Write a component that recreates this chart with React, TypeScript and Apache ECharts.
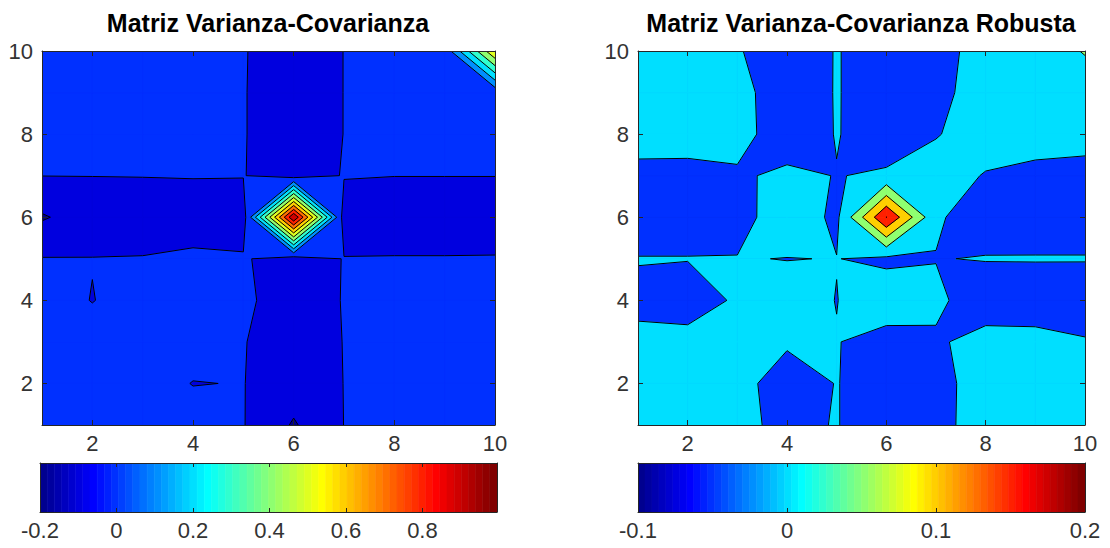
import React, { useEffect, useRef } from "react";
import * as echarts from "echarts";

const FONT = '"Liberation Sans", Arial, Helvetica, sans-serif';
const AXIS_COLOR = "#262626";
const LABEL_COLOR = "#333333";

const titleLeft = "Matriz Varianza-Covarianza";
const titleRight = "Matriz Varianza-Covarianza Robusta";

const gridMin = 1;
const gridMax = 10;
const gridTicks = [2, 4, 6, 8, 10];

// rows: y = 1..10 (first row is y = 1), columns: x = 1..10
const covMatrix: number[][] = [
  [0.03, 0.025, 0.02, 0.03, 0.004, -0.11, 0.001, 0.02, 0.025, 0.02],
  [0.025, 0.03, 0.03, -0.002, 0.002, -0.05, 0.001, 0.02, 0.02, 0.025],
  [0.02, 0.03, 0.03, 0.03, 0.004, -0.05, 0.002, 0.025, 0.02, 0.02],
  [0.03, -0.002, 0.03, 0.035, 0.018, -0.05, 0.004, 0.02, 0.025, 0.02],
  [0.004, 0.002, 0.004, 0.018, 0.01, -0.05, 0.003, 0.004, 0.004, 0.005],
  [-0.11, -0.05, -0.05, -0.05, -0.05, 0.995, -0.05, -0.05, -0.05, -0.05],
  [0.001, 0.001, 0.002, 0.004, 0.003, -0.05, 0.005, 0.001, 0.001, 0.001],
  [0.02, 0.02, 0.025, 0.02, 0.004, -0.05, 0.001, 0.03, 0.025, 0.03],
  [0.025, 0.02, 0.02, 0.025, 0.004, -0.05, 0.001, 0.025, 0.03, 0.03],
  [0.02, 0.025, 0.02, 0.02, 0.005, -0.05, 0.001, 0.03, 0.03, 0.6],
];

const robustMatrix: number[][] = [
  [0.02, 0.015, 0.01, -0.01, 0.002, -0.03, -0.02, 0.03, 0.03, 0.03],
  [0.015, 0.02, 0.021, -0.03, 0.002, -0.03, -0.02, 0.028, 0.03, 0.03],
  [0.01, 0.021, 0.02, 0.008, 0.002, -0.02, -0.01, 0.027, 0.02, 0.005],
  [-0.01, -0.03, 0.008, 0.02, -0.001, 0.031, 0.015, -0.042, -0.035, -0.037],
  [0.002, 0.002, 0.002, -0.001, 0.001, -0.01, -0.002, 0.003, 0.003, 0.003],
  [-0.03, -0.03, -0.02, 0.031, -0.01, 0.201, 0.008, -0.032, -0.03, -0.03],
  [-0.02, -0.02, -0.01, 0.015, -0.002, 0.008, 0.03, -0.004, -0.02, -0.02],
  [0.03, 0.028, 0.027, -0.042, 0.003, -0.032, -0.004, 0.032, 0.033, 0.022],
  [0.03, 0.03, 0.02, -0.035, 0.003, -0.03, -0.02, 0.033, 0.02, 0.025],
  [0.03, 0.03, 0.005, -0.037, 0.003, -0.03, -0.02, 0.022, 0.025, 0.053],
];

const levelsCov = [-0.1, 0, 0.1, 0.2, 0.3, 0.4, 0.5, 0.6, 0.7, 0.8, 0.9];
const levelsRobust = [-0.05, 0, 0.05, 0.1, 0.15, 0.2];

const climCov = [-0.2, 0.995];
const climRobust = [-0.1, 0.2];

const colorbarTicksCov = [-0.2, 0, 0.2, 0.4, 0.6, 0.8];
const colorbarTicksRobust = [-0.1, 0, 0.1, 0.2];

// MATLAB jet(64) colormap
function jetColormap(m: number): string[] {
  const n = Math.ceil(m / 4);
  const u: number[] = [];
  for (let i = 1; i <= n; i++) u.push(i / n);
  for (let i = 1; i < n; i++) u.push(1);
  for (let i = n; i >= 1; i--) u.push(i / n);
  const g0 = Math.ceil(n / 2) - (m % 4 === 1 ? 1 : 0);
  const out: string[] = [];
  for (let k = 1; k <= m; k++) {
    const get = (off: number) => {
      const idx = k - off;
      return idx >= 1 && idx <= u.length ? u[idx - 1] : 0;
    };
    const r = Math.round(get(g0 + n) * 255);
    const g = Math.round(get(g0) * 255);
    const b = Math.round(get(g0 - n) * 255);
    out.push(`rgb(${r},${g},${b})`);
  }
  return out;
}
const JET = jetColormap(64);

function colorAt(v: number, clim: number[]): string {
  let idx = Math.floor(((v - clim[0]) / (clim[1] - clim[0])) * JET.length);
  if (idx < 0) idx = 0;
  if (idx > JET.length - 1) idx = JET.length - 1;
  return JET[idx];
}

type Pt = [number, number];

// marching squares on one cell: region >= L and its boundary segments
function cellGeometry(M: number[][], cx: number, cy: number, L: number) {
  const cs: Pt[] = [
    [cx, cy],
    [cx + 1, cy],
    [cx + 1, cy + 1],
    [cx, cy + 1],
  ];
  const vs = cs.map(([x, y]) => M[y - 1][x - 1]);
  const ins = vs.map((v) => v >= L);
  const cross = (k: number): Pt => {
    const a = cs[k];
    const b = cs[(k + 1) % 4];
    const va = vs[k];
    const vb = vs[(k + 1) % 4];
    const t = (L - va) / (vb - va);
    return [a[0] + t * (b[0] - a[0]), a[1] + t * (b[1] - a[1])];
  };
  const nIn = ins.filter(Boolean).length;
  const saddle = nIn === 2 && ins[0] === ins[2];
  if (saddle) {
    const center = (vs[0] + vs[1] + vs[2] + vs[3]) / 4;
    if (center < L) {
      const polys: Pt[][] = [];
      const segs: [Pt, Pt][] = [];
      for (let k = 0; k < 4; k++) {
        if (!ins[k]) continue;
        const pin = cross((k + 3) % 4);
        const pout = cross(k);
        polys.push([pin, cs[k], pout]);
        segs.push([pin, pout]);
      }
      return { polys, segs };
    }
  }
  const pts: Pt[] = [];
  const events: { exit: boolean; p: Pt }[] = [];
  for (let k = 0; k < 4; k++) {
    const ia = ins[k];
    const ib = ins[(k + 1) % 4];
    if (ia) pts.push(cs[k]);
    if (ia !== ib) {
      const p = cross(k);
      pts.push(p);
      events.push({ exit: ia, p });
    }
  }
  const segs: [Pt, Pt][] = [];
  for (let e = 0; e < events.length; e++) {
    if (events[e].exit) {
      const nxt = events[(e + 1) % events.length];
      segs.push([events[e].p, nxt.p]);
    }
  }
  return { polys: pts.length >= 3 ? [pts] : [], segs };
}

function contourSeries(M: number[][], levels: number[], clim: number[], axisIndex: number) {
  const fillData: number[][] = [];
  const lineData: number[][] = [];
  for (let k = -1; k < levels.length; k++) {
    for (let cy = 1; cy < M.length; cy++) {
      for (let cx = 1; cx < M[0].length; cx++) {
        fillData.push([k, cx + 0.5, cy + 0.5, cx, cy]);
        if (k >= 0) lineData.push([k, cx + 0.5, cy + 0.5, cx, cy]);
      }
    }
  }
  const fill = {
    type: "custom",
    xAxisIndex: axisIndex,
    yAxisIndex: axisIndex,
    silent: true,
    clip: true,
    z: 2,
    encode: { x: 1, y: 2 },
    data: fillData,
    renderItem: (params: any, api: any) => {
      const k = api.value(0);
      const cx = api.value(3);
      const cy = api.value(4);
      let polys: Pt[][];
      let color: string;
      if (k < 0) {
        polys = [
          [
            [cx, cy],
            [cx + 1, cy],
            [cx + 1, cy + 1],
            [cx, cy + 1],
          ],
        ];
        color = colorAt(clim[0], clim);
      } else {
        polys = cellGeometry(M, cx, cy, levels[k]).polys;
        color = colorAt(levels[k], clim);
      }
      return {
        type: "group",
        children: polys.map((poly) => ({
          type: "polygon",
          shape: { points: poly.map((p) => api.coord(p)) },
          style: { fill: color, stroke: color, lineWidth: 0.7 },
        })),
      };
    },
  };
  const lines = {
    type: "custom",
    xAxisIndex: axisIndex,
    yAxisIndex: axisIndex,
    silent: true,
    clip: true,
    z: 3,
    encode: { x: 1, y: 2 },
    data: lineData,
    renderItem: (params: any, api: any) => {
      const k = api.value(0);
      const cx = api.value(3);
      const cy = api.value(4);
      const { segs } = cellGeometry(M, cx, cy, levels[k]);
      return {
        type: "group",
        children: segs.map(([p, q]) => {
          const a = api.coord(p);
          const b = api.coord(q);
          return {
            type: "line",
            shape: { x1: a[0], y1: a[1], x2: b[0], y2: b[1] },
            style: { stroke: "#000000", lineWidth: 1 },
          };
        }),
      };
    },
  };
  return [fill, lines];
}

function colorbarSeries(clim: number[], axisIndex: number) {
  const data: number[][] = [];
  for (let i = 0; i < JET.length; i++) {
    const x0 = clim[0] + (i / JET.length) * (clim[1] - clim[0]);
    const x1 = clim[0] + ((i + 1) / JET.length) * (clim[1] - clim[0]);
    data.push([x0, x1, i]);
  }
  return {
    type: "custom",
    xAxisIndex: axisIndex,
    yAxisIndex: axisIndex,
    silent: true,
    clip: true,
    z: 2,
    encode: { x: [0, 1] },
    data,
    renderItem: (params: any, api: any) => {
      const a = api.coord([api.value(0), 1]);
      const b = api.coord([api.value(1), 0]);
      const c = JET[api.value(2)];
      return {
        type: "rect",
        shape: { x: a[0], y: a[1], width: b[0] - a[0], height: b[1] - a[1] },
        style: { fill: c, stroke: c, lineWidth: 0.6 },
      };
    },
  };
}

function plotAxis(kind: "x" | "y", gridIndex: number, position: string, showLabels: boolean) {
  return {
    type: "value",
    gridIndex,
    position,
    min: gridMin,
    max: gridMax,
    z: 6,
    axisLine: { show: true, onZero: false, lineStyle: { color: AXIS_COLOR, width: 1 } },
    axisTick: {
      show: true,
      inside: true,
      length: 5,
      customValues: gridTicks,
      lineStyle: { color: AXIS_COLOR, width: 1 },
    },
    axisLabel: {
      show: showLabels,
      customValues: gridTicks,
      fontSize: 22,
      fontFamily: FONT,
      color: LABEL_COLOR,
      margin: kind === "x" ? 7 : 9,
    },
    splitLine: { show: false },
  };
}

function colorbarXAxis(gridIndex: number, position: string, clim: number[], ticks: number[], showLabels: boolean) {
  return {
    type: "value",
    gridIndex,
    position,
    min: clim[0],
    max: clim[1],
    z: 6,
    axisLine: { show: true, onZero: false, lineStyle: { color: AXIS_COLOR, width: 1 } },
    axisTick: {
      show: true,
      inside: true,
      length: 4,
      customValues: ticks,
      lineStyle: { color: AXIS_COLOR, width: 1 },
    },
    axisLabel: {
      show: showLabels,
      customValues: ticks,
      fontSize: 22,
      fontFamily: FONT,
      color: LABEL_COLOR,
      margin: 7,
    },
    splitLine: { show: false },
  };
}

function colorbarYAxis(gridIndex: number, position: string) {
  return {
    type: "value",
    gridIndex,
    position,
    min: 0,
    max: 1,
    z: 6,
    axisLine: { show: true, onZero: false, lineStyle: { color: AXIS_COLOR, width: 1 } },
    axisTick: { show: false },
    axisLabel: { show: false },
    splitLine: { show: false },
  };
}

export default function App() {
  const ref = useRef<HTMLDivElement>(null);
  useEffect(() => {
    if (!ref.current) return;
    const chart = echarts.init(ref.current, undefined, { renderer: "svg" });
    const titleStyle = {
      fontSize: 25,
      fontWeight: "bold",
      fontFamily: FONT,
      fill: "#000000",
      align: "center",
      verticalAlign: "middle",
    };
    const option: any = {
      animation: false,
      backgroundColor: "#ffffff",
      textStyle: { fontFamily: FONT },
      grid: [
        { left: 42, top: 51, width: 453, height: 374, containLabel: false, outerBoundsMode: "none" },
        { left: 638, top: 51, width: 447, height: 374, containLabel: false, outerBoundsMode: "none" },
        { left: 40, top: 463, width: 457, height: 49, containLabel: false, outerBoundsMode: "none" },
        { left: 638, top: 463, width: 447, height: 49, containLabel: false, outerBoundsMode: "none" },
      ],
      xAxis: [
        plotAxis("x", 0, "bottom", true),
        plotAxis("x", 0, "top", false),
        plotAxis("x", 1, "bottom", true),
        plotAxis("x", 1, "top", false),
        colorbarXAxis(2, "bottom", climCov, colorbarTicksCov, true),
        colorbarXAxis(2, "top", climCov, colorbarTicksCov, false),
        colorbarXAxis(3, "bottom", climRobust, colorbarTicksRobust, true),
        colorbarXAxis(3, "top", climRobust, colorbarTicksRobust, false),
      ],
      yAxis: [
        plotAxis("y", 0, "left", true),
        plotAxis("y", 0, "right", false),
        plotAxis("y", 1, "left", true),
        plotAxis("y", 1, "right", false),
        colorbarYAxis(2, "left"),
        colorbarYAxis(2, "right"),
        colorbarYAxis(3, "left"),
        colorbarYAxis(3, "right"),
      ],
      series: [
        ...contourSeries(covMatrix, levelsCov, climCov, 0),
        ...contourSeries(robustMatrix, levelsRobust, climRobust, 2),
        colorbarSeries(climCov, 4),
        colorbarSeries(climRobust, 6),
      ],
      graphic: [
        { type: "text", x: 268, y: 23, style: { ...titleStyle, text: titleLeft } },
        { type: "text", x: 861, y: 23, style: { ...titleStyle, text: titleRight } },
      ],
    };
    chart.setOption(option);
    return () => chart.dispose();
  }, []);
  return (
    <div
      ref={ref}
      style={{ position: "absolute", left: 0, top: 0, width: 1110, height: 548, background: "#ffffff" }}
    />
  );
}
